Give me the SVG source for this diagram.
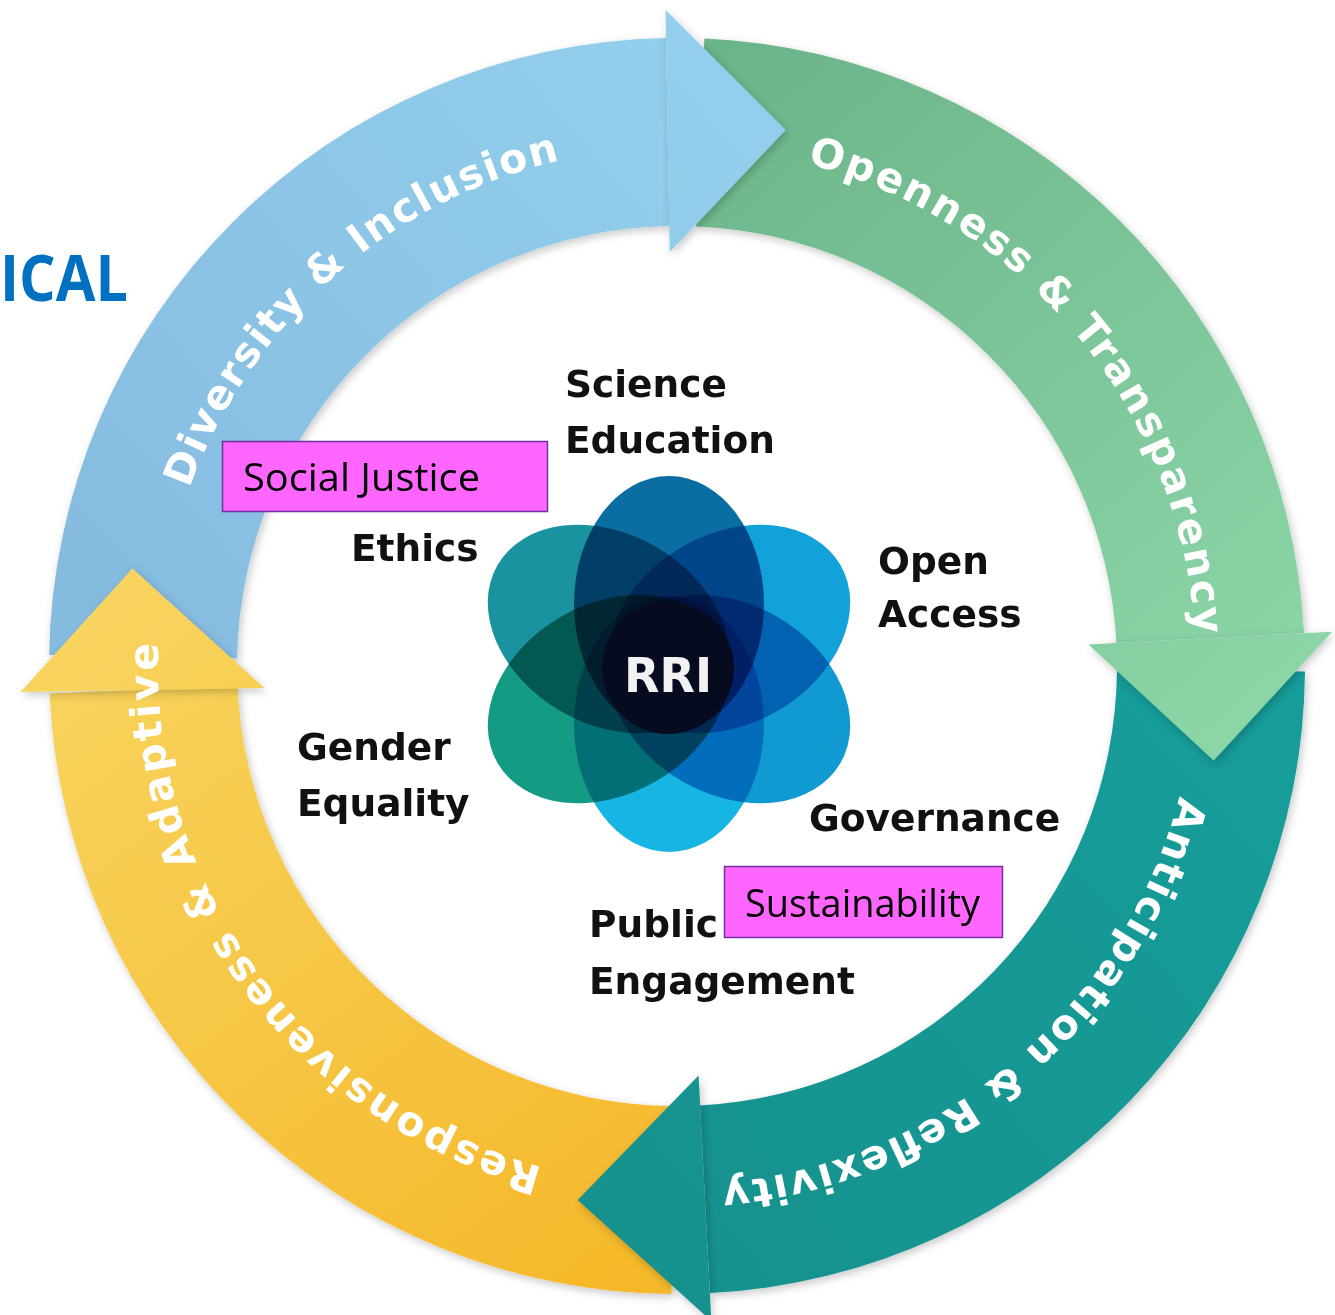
<svg xmlns="http://www.w3.org/2000/svg" width="1335" height="1315" viewBox="0 0 1335 1315">
<defs>
<style>
.ring-t{font-family:"DejaVu Sans",Verdana,sans-serif;font-weight:bold;font-size:41px;fill:#ffffff;}
.lbl{font-family:"DejaVu Sans",Verdana,sans-serif;font-weight:bold;font-size:37.5px;fill:#111111;}
.box{fill:#ff66ff;stroke:#7030a0;stroke-width:1.5;}
.boxt{font-family:"Open Sans","Noto Sans",sans-serif;font-size:38px;fill:#000000;}
.petal{mix-blend-mode:multiply;}
.sh{filter:url(#sh);}
</style>
<filter id="sh" x="-10%" y="-10%" width="120%" height="120%">
<feDropShadow dx="2" dy="3" stdDeviation="4" flood-color="#000000" flood-opacity="0.22"/>
</filter>
<linearGradient id="gBlue" gradientUnits="userSpaceOnUse" x1="100" y1="620" x2="720" y2="80">
<stop offset="0" stop-color="#86bbe0"/><stop offset="1" stop-color="#93cfec"/>
</linearGradient>
<linearGradient id="gGreen" gradientUnits="userSpaceOnUse" x1="700" y1="60" x2="1260" y2="700">
<stop offset="0" stop-color="#6bb489"/><stop offset="1" stop-color="#8bd5a7"/>
</linearGradient>
<linearGradient id="gTeal" gradientUnits="userSpaceOnUse" x1="1250" y1="700" x2="620" y2="1250">
<stop offset="0" stop-color="#159d9a"/><stop offset="1" stop-color="#13918d"/>
</linearGradient>
<linearGradient id="gYellow" gradientUnits="userSpaceOnUse" x1="140" y1="580" x2="650" y2="1260">
<stop offset="0" stop-color="#f8d45e"/><stop offset="1" stop-color="#f5b82a"/>
</linearGradient>
<path id="tpDiv" d="M 189.3 488.5 A 519 519 0 0 1 677 147"/>
<path id="tpOpen" d="M 807.0 163.6 A 519 519 0 0 1 1194.0 711.2"/>
<path id="tpAnt" d="M 1179.4 796.0 A 519 519 0 0 1 631.8 1183.0"/>
<path id="tpResp" d="M 542.7 1167.3 A 519 519 0 0 1 169.3 558.1"/>
</defs>

<rect width="1335" height="1315" fill="#ffffff"/>

<g id="title-fragment">
<text x="0" y="301" font-family="'Open Sans','Noto Sans',sans-serif" font-weight="bold" font-size="64" fill="#0070c0" textLength="128" lengthAdjust="spacingAndGlyphs">ICAL</text>
</g>

<g id="ring">
<g id="bands">
<path id="band-diversity" class="sh" fill="url(#gBlue)" d="M 49.1 655.0 A 628 628 0 0 1 666.0 38.1 L 669.3 226.1 A 440 440 0 0 0 237.1 658.3 Z"/>
<path id="band-openness" class="sh" fill="url(#gGreen)" d="M 704.4 38.6 A 628 628 0 0 1 1304.1 633.1 L 1116.4 643.0 A 440 440 0 0 0 696.2 226.4 Z"/>
<path id="band-anticipation" class="sh" fill="url(#gTeal)" d="M 1305.0 671.5 A 628 628 0 0 1 709.9 1293.1 L 700.0 1105.4 A 440 440 0 0 0 1117.0 669.8 Z"/>
<path id="band-responsiveness" class="sh" fill="url(#gYellow)" d="M 671.5 1294.0 A 628 628 0 0 1 49.6 693.4 L 237.4 685.2 A 440 440 0 0 0 673.2 1106.0 Z"/>
</g>
<g id="heads">
<polygon id="head-diversity" class="sh" fill="url(#gBlue)" points="665.6,10.1 785.7,130.0 669.8,252.1"/>
<polygon id="head-openness" class="sh" fill="url(#gGreen)" points="1332.1,631.7 1213.7,760.6 1088.4,644.4"/>
<polygon id="head-anticipation" class="sh" fill="url(#gTeal)" points="711.3,1321.1 577.7,1199.9 698.6,1075.4"/>
<polygon id="head-responsiveness" class="sh" fill="url(#gYellow)" points="20.6,692.0 132.4,568.5 264.4,688.0"/>
</g>
<g id="ring-labels">
<text class="ring-t"><textPath href="#tpDiv" textLength="516" lengthAdjust="spacing">Diversity &amp; Inclusion</textPath></text>
<text class="ring-t"><textPath href="#tpOpen" textLength="652" lengthAdjust="spacing">Openness &amp; Transparency</textPath></text>
<text class="ring-t"><textPath href="#tpAnt" textLength="639" lengthAdjust="spacing">Anticipation &amp; Reflexivity</textPath></text>
<text class="ring-t"><textPath href="#tpResp" textLength="702" lengthAdjust="spacing">Responsiveness &amp; Adaptive</textPath></text>
</g>
</g>

<g id="rri-flower" style="isolation:isolate">
<g transform="translate(669 664)">
<ellipse class="petal" cx="0" cy="-60" rx="95" ry="128" fill="#0b6ea3"/>
<ellipse class="petal" cx="0" cy="-70" rx="95" ry="128" fill="#12a1d8" transform="rotate(60)"/>
<ellipse class="petal" cx="0" cy="-70" rx="95" ry="128" fill="#109ad1" transform="rotate(120)"/>
<ellipse class="petal" cx="0" cy="-60" rx="95" ry="128" fill="#17b5e3" transform="rotate(180)"/>
<ellipse class="petal" cx="0" cy="-70" rx="95" ry="128" fill="#149b83" transform="rotate(240)"/>
<ellipse class="petal" cx="0" cy="-70" rx="95" ry="128" fill="#1a92a0" transform="rotate(300)"/>
</g>
</g>
<g id="rri-core">
<circle cx="668" cy="668" r="66" fill="#070b1f"/>
<text x="668" y="692" text-anchor="middle" font-family="'DejaVu Sans',Verdana,sans-serif" font-weight="bold" font-size="48" fill="#f2f2f2" textLength="88" lengthAdjust="spacingAndGlyphs">RRI</text>
</g>

<g id="label-science-education"><text class="lbl" x="565" y="397">Science</text><text class="lbl" x="565" y="453">Education</text></g>
<g id="label-ethics"><text class="lbl" x="351" y="561">Ethics</text></g>
<g id="label-open-access"><text class="lbl" x="878" y="574">Open</text><text class="lbl" x="878" y="627">Access</text></g>
<g id="label-gender-equality"><text class="lbl" x="297" y="760">Gender</text><text class="lbl" x="297" y="816">Equality</text></g>
<g id="label-governance"><text class="lbl" x="809" y="831">Governance</text></g>
<g id="label-public-engagement"><text class="lbl" x="589" y="937">Public</text><text class="lbl" x="589" y="994">Engagement</text></g>

<g id="box-social-justice">
<rect class="box" x="222.5" y="441.5" width="325" height="70"/>
<text class="boxt" x="243" y="491" textLength="237" lengthAdjust="spacingAndGlyphs">Social Justice</text>
</g>
<g id="box-sustainability">
<rect class="box" x="724.5" y="866.5" width="278" height="71"/>
<text class="boxt" x="745" y="917" textLength="235" lengthAdjust="spacingAndGlyphs">Sustainability</text>
</g>
</svg>
